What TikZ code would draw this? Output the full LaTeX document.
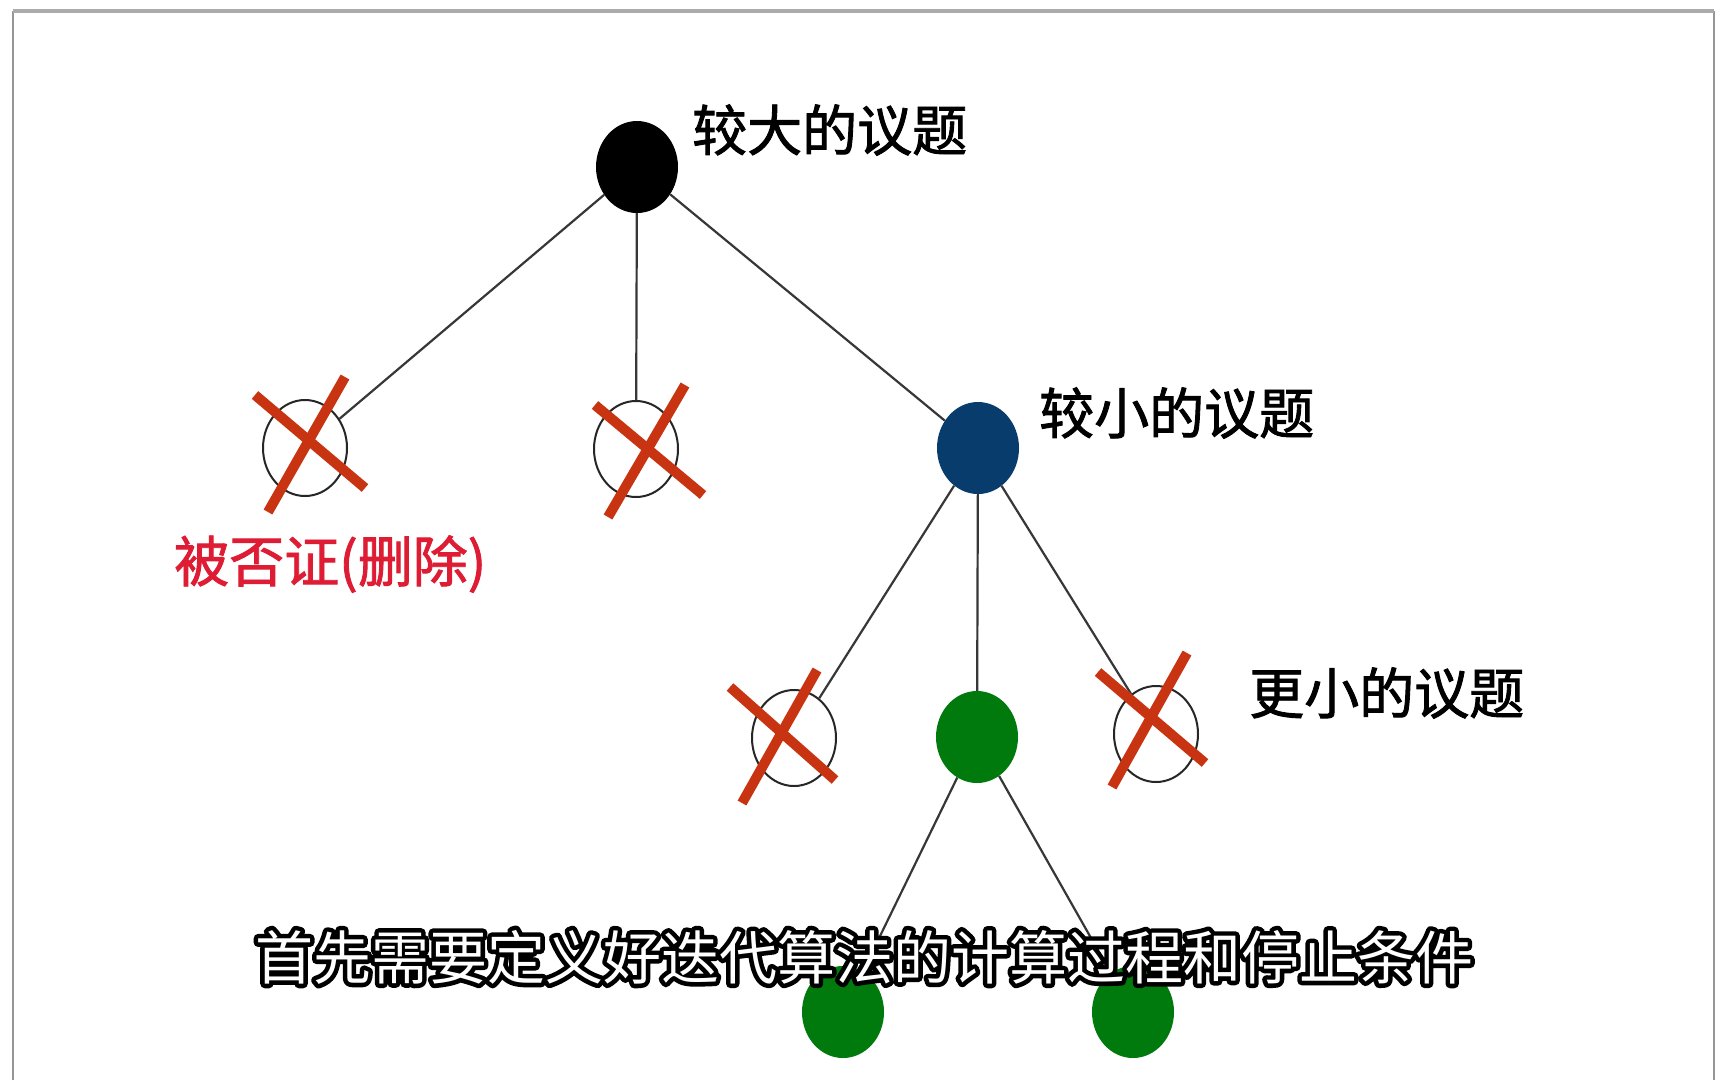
\documentclass[tikz,border=0pt]{standalone}
\usepackage{fontspec}
\newfontfamily\cjk{Noto Sans CJK SC}
\newfontfamily\cjkm[FakeBold=1.6]{Noto Sans CJK SC}
\usetikzlibrary{shapes.geometric}
\definecolor{navy}{RGB}{8,60,108}
\definecolor{treegreen}{RGB}{0,122,12}
\definecolor{xred}{RGB}{200,52,18}
\definecolor{lblred}{RGB}{222,28,52}
\definecolor{framegray}{RGB}{150,150,150}
\definecolor{edgegray}{RGB}{55,55,55}
\tikzset{
  fullnode/.style={ellipse, draw=none, minimum width=82pt, minimum height=92pt, inner sep=0pt},
  hollownode/.style={ellipse, draw=black!85, line width=2pt, minimum width=84pt, minimum height=96pt, inner sep=0pt},
  edgeline/.style={draw=edgegray, line width=2.2pt},
  xmark/.style={draw=xred, line width=10pt},
  lbl/.style={font=\cjkm\fontsize{55}{62}\selectfont, inner sep=0pt, anchor=west},
}
\newcommand{\subtext}{首先需要定义好迭代算法的计算过程和停止条件}
\begin{document}
\begin{tikzpicture}[x=1pt,y=-1pt]
\useasboundingbox (0,0) rectangle (1728,1080);
\fill[white] (0,0) rectangle (1728,1080);
% frame
\draw[framegray, line width=2.5pt] (13,1080) -- (13,12) -- (1714,12) -- (1714,1080);
\draw[framegray!80, line width=4pt] (13,11) -- (1714,11);
% nodes
\node[fullnode, fill=black] (root) at (637,167) {};
\node[hollownode] (c1) at (305,448) {};
\node[hollownode] (c2) at (636,449) {};
\node[fullnode, fill=navy] (mid) at (978,448) {};
\node[hollownode] (c3) at (794,738) {};
\node[fullnode, fill=treegreen] (g1) at (977,737) {};
\node[hollownode] (c4) at (1156,734) {};
\node[fullnode, fill=treegreen] (g2) at (843,1012) {};
\node[fullnode, fill=treegreen] (g3) at (1133,1012) {};
% edges
\draw[edgeline] (root) -- (c1);
\draw[edgeline] (root) -- (c2);
\draw[edgeline] (root) -- (mid);
\draw[edgeline] (mid) -- (c3);
\draw[edgeline] (mid) -- (g1);
\draw[edgeline] (mid) -- (c4);
\draw[edgeline] (g1) -- (g2);
\draw[edgeline] (g1) -- (g3);
% crosses
\draw[xmark] ([shift={(-50,-53)}]c1.center) -- ([shift={(60,40)}]c1.center);
\draw[xmark] ([shift={(40,-71)}]c1.center) -- ([shift={(-37,64)}]c1.center);
\draw[xmark] ([shift={(-41,-44)}]c2.center) -- ([shift={(67,46)}]c2.center);
\draw[xmark] ([shift={(49,-64)}]c2.center) -- ([shift={(-28,68)}]c2.center);
\draw[xmark] ([shift={(-64,-51)}]c3.center) -- ([shift={(41,42)}]c3.center);
\draw[xmark] ([shift={(23,-68)}]c3.center) -- ([shift={(-52,65)}]c3.center);
\draw[xmark] ([shift={(-58,-62)}]c4.center) -- ([shift={(49,29)}]c4.center);
\draw[xmark] ([shift={(31,-81)}]c4.center) -- ([shift={(-44,53)}]c4.center);
% labels
\node[lbl] (lroot) at (692,130) {较大的议题};
\node[lbl] (lmid) at (1039,413) {较小的议题};
\node[lbl] (lsmall) at (1249,693) {更小的议题};
\node[lbl, text=lblred] (lrefuted) at (174,564) {被否证(删除)};
% subtitle
\node[inner sep=0pt, text=white, font=\cjk\fontsize{58}{64}\selectfont] (sub) at (864,957)
  {\rlap{\special{pdf:literal direct 1 Tr 9 w 1 j 0 0 0 RG}\subtext\special{pdf:literal direct 0 Tr 1 w}}\subtext};
\end{tikzpicture}
\end{document}
